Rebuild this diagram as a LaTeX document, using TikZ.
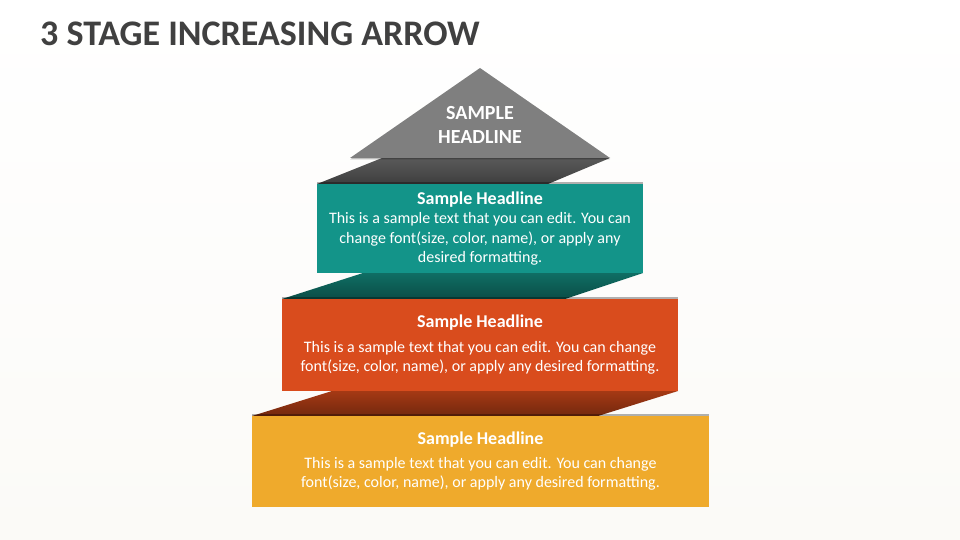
\documentclass[tikz,border=0pt]{standalone}
\usepackage{fontspec}
\setmainfont{Carlito}
\usepackage{xcolor}
\usepackage{tikz}
\usetikzlibrary{shadows}

\definecolor{titlegray}{RGB}{64,64,64}
\definecolor{peakgray}{RGB}{127,127,127}
\definecolor{foldgray}{RGB}{89,89,89}
\definecolor{stageteal}{RGB}{19,148,137}
\definecolor{foldteal}{RGB}{15,110,100}
\definecolor{stageorange}{RGB}{217,76,29}
\definecolor{foldorange}{RGB}{165,57,20}
\definecolor{stageyellow}{RGB}{239,170,44}

\newcommand{\stagehead}[1]{{\fontsize{18}{20}\selectfont\bfseries #1}}

\begin{document}
\begin{tikzpicture}[x=1pt, y=-1pt,
  stagebox/.style={rectangle, inner sep=0pt, text=white, align=center,
    font=\fontsize{16}{19.5}\selectfont,
    general shadow={shadow yshift=2pt, fill=black, opacity=.3}}]
% Page and background
\useasboundingbox (0,0) rectangle (960,540);
\shade[top color=white, bottom color={rgb,255:red,251;green,250;blue,247}] (0,0) rectangle (960,540);

% Title
\node[anchor=base west, text=titlegray, font=\fontsize{36}{40}\selectfont\bfseries, inner sep=0pt] (title) at (40,46) {3 STAGE INCREASING ARROW};

% Peak and its fold
\shade[top color=foldgray, bottom color=foldgray!70!black] (382,158) -- (610,158) -- (548,184) -- (317,184) -- cycle;
\fill[peakgray, general shadow={shadow yshift=-1.5pt, fill=black, opacity=.25}] (480,68) -- (610,158) -- (350,158) -- cycle;
\node[text=white, align=center, font=\fontsize{20}{24}\selectfont\bfseries] (peak) at (480,125) {SAMPLE\\HEADLINE};

% Stage 3 (teal)
\node[stagebox, fill=stageteal, minimum width=326pt, minimum height=89pt] (stage3) at (480,228.5)
  {\stagehead{Sample Headline}\\This is a sample text that you can edit. You can\\change font(size, color, name), or apply any\\desired formatting.};
\shade[top color=foldteal, bottom color=foldteal!70!black] (363,273) -- (643,273) -- (565,299) -- (282,299) -- cycle;

% Stage 2 (orange)
\node[stagebox, fill=stageorange, minimum width=396pt, minimum height=92pt] (stage2) at (480,345)
  {\stagehead{Sample Headline}\\[5pt]This is a sample text that you can edit. You can change\\font(size, color, name), or apply any desired formatting.};
\shade[top color=foldorange, bottom color=foldorange!70!black] (332,391) -- (678,391) -- (598,416) -- (252,416) -- cycle;

% Stage 1 (yellow)
\node[stagebox, fill=stageyellow, minimum width=457pt, minimum height=91pt] (stage1) at (480.5,461.5)
  {\stagehead{Sample Headline}\\[4pt]This is a sample text that you can edit. You can change\\font(size, color, name), or apply any desired formatting.};

\end{tikzpicture}
\end{document}
